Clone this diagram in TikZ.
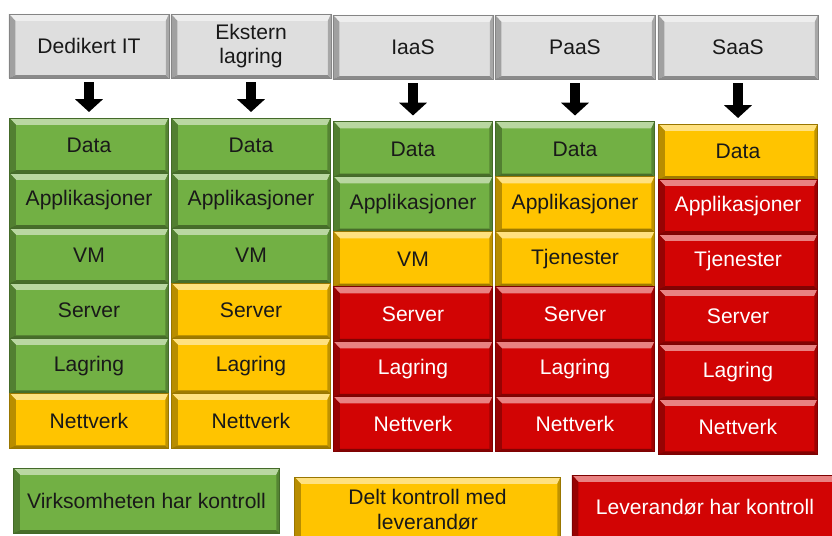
\documentclass[tikz,border=0pt]{standalone}
\usepackage{fontspec}
\setmainfont{Liberation Sans}
\usetikzlibrary{positioning,arrows.meta}
\definecolor{cgreen}{RGB}{114,176,68}
\definecolor{cyellow}{RGB}{255,196,0}
\definecolor{cred}{RGB}{210,4,4}
\definecolor{cgray}{RGB}{222,222,222}
\def\pp{path picture bounding box}
\tikzset{
  brick/.style={rectangle, fill=#1, draw=#1!60!black, line width=0.4pt, outer sep=0pt, inner sep=2pt,
    minimum width=3.975cm, minimum height=1.375cm, align=center, text=black!90,
    font=\fontsize{15}{17.5}\selectfont, yshift=0pt,
    path picture={
      \fill[#1!50!white] (\pp.north west) -- (\pp.north east) -- ([shift={(-0.08cm,-0.17cm)}]\pp.north east)
        -- ([shift={(0.16cm,-0.17cm)}]\pp.north west) -- cycle;
      \fill[#1!72!black] (\pp.north west) -- ([shift={(0.16cm,-0.17cm)}]\pp.north west)
        -- ([shift={(0.16cm,0.07cm)}]\pp.south west) -- (\pp.south west) -- cycle;
      \fill[#1!62!black] (\pp.south west) -- ([shift={(0.16cm,0.07cm)}]\pp.south west)
        -- ([shift={(-0.08cm,0.07cm)}]\pp.south east) -- (\pp.south east) -- cycle;
      \fill[#1!75!black] (\pp.north east) -- ([shift={(-0.08cm,-0.17cm)}]\pp.north east)
        -- ([shift={(-0.08cm,0.07cm)}]\pp.south east) -- (\pp.south east) -- cycle;
    }},
  own/.style={brick=cgreen},
  shared/.style={brick=cyellow},
  vendor/.style={brick=cred, text=white},
  head/.style={brick=cgray, minimum width=4cm, minimum height=1.6cm},
  legend/.style={minimum width=6.65cm, minimum height=1.625cm},
  flow/.style={-{Triangle[width=0.68cm,length=0.32cm]}, line width=0.25cm, shorten <=0.1cm, shorten >=0.15cm}
}
\begin{document}
\begin{tikzpicture}[x=0.025cm, y=-0.025cm]
  \clip (0,0) rectangle (832,535);
  % headers
  \node[head] (h1) at (89,46) {Dedikert IT};
  \node[head] (h2) at (251,46) {Ekstern\\lagring};
  \node[head] (h3) at (413,47) {IaaS};
  \node[head] (h4) at (575,47) {PaaS};
  \node[head] (h5) at (738,47) {SaaS};
  % Dedikert IT
  \node[own] (d1) at (89,145.5) {Data};
  \node[own, below=0pt of d1] (a1) {Applikasjoner};
  \node[own, below=0pt of a1] (v1) {VM};
  \node[own, below=0pt of v1] (s1) {Server};
  \node[own, below=0pt of s1] (l1) {Lagring};
  \node[shared, below=0pt of l1] (n1) {Nettverk};
  % Ekstern lagring
  \node[own] (d2) at (251,145.5) {Data};
  \node[own, below=0pt of d2] (a2) {Applikasjoner};
  \node[own, below=0pt of a2] (v2) {VM};
  \node[shared, below=0pt of v2] (s2) {Server};
  \node[shared, below=0pt of s2] (l2) {Lagring};
  \node[shared, below=0pt of l2] (n2) {Nettverk};
  % IaaS
  \node[own] (d3) at (413,149) {Data};
  \node[own, below=0pt of d3] (a3) {Applikasjoner};
  \node[shared, below=0pt of a3] (v3) {VM};
  \node[vendor, below=0pt of v3] (s3) {Server};
  \node[vendor, below=0pt of s3] (l3) {Lagring};
  \node[vendor, below=0pt of l3] (n3) {Nettverk};
  % PaaS
  \node[own] (d4) at (575,149) {Data};
  \node[shared, below=0pt of d4] (a4) {Applikasjoner};
  \node[shared, below=0pt of a4] (v4) {Tjenester};
  \node[vendor, below=0pt of v4] (s4) {Server};
  \node[vendor, below=0pt of s4] (l4) {Lagring};
  \node[vendor, below=0pt of l4] (n4) {Nettverk};
  % SaaS
  \node[shared] (d5) at (738,151.5) {Data};
  \node[vendor, below=0pt of d5] (a5) {Applikasjoner};
  \node[vendor, below=0pt of a5] (v5) {Tjenester};
  \node[vendor, below=0pt of v5] (s5) {Server};
  \node[vendor, below=0pt of s5] (l5) {Lagring};
  \node[vendor, below=0pt of l5] (n5) {Nettverk};
  \foreach \i in {1,...,5} \draw[flow] (h\i) -- (d\i);
  % legend
  \node[own, legend] (leg1) at (146.5,500.5) {Virksomheten har kontroll};
  \node[shared, legend] (leg2) at (427.5,509.5) {Delt kontroll med\\leverandør};
  \node[vendor, legend] (leg3) at (705,507.5) {Leverandør har kontroll};
\end{tikzpicture}
\end{document}
